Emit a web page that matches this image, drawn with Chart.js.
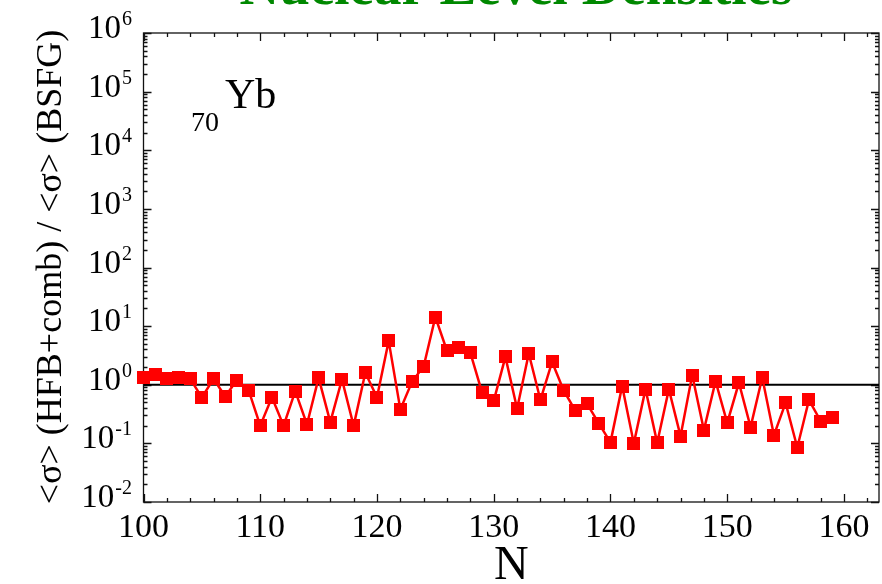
<!DOCTYPE html>
<html>
<head>
<meta charset="utf-8">
<script src="https://cdn.jsdelivr.net/npm/chart.js"></script>
<style>
  html, body { margin: 0; padding: 0; background: #fff; overflow: hidden; }
  canvas { display: block; }
</style>
</head>
<body>
<canvas id="chart" width="882" height="584"></canvas>
<script>
var neutrons = [100, 101, 102, 103, 104, 105, 106, 107, 108, 109,
                110, 111, 112, 113, 114, 115, 116, 117, 118, 119,
                120, 121, 122, 123, 124, 125, 126, 127, 128, 129,
                130, 131, 132, 133, 134, 135, 136, 137, 138, 139,
                140, 141, 142, 143, 144, 145, 146, 147, 148, 149,
                150, 151, 152, 153, 154, 155, 156, 157, 158, 159];
var ratio = [1.33, 1.5, 1.28, 1.31, 1.26, 0.61, 1.26, 0.63, 1.2, 0.81,
             0.2, 0.61, 0.2, 0.78, 0.21, 1.31, 0.23, 1.23, 0.2, 1.6,
             0.61, 5.6, 0.38, 1.12, 2.07, 14.3, 3.78, 4.25, 3.5, 0.74,
             0.53, 2.99, 0.39, 3.41, 0.55, 2.45, 0.79, 0.36, 0.47, 0.22,
             0.104, 0.95, 0.1, 0.84, 0.102, 0.84, 0.133, 1.46, 0.169, 1.15,
             0.224, 1.08, 0.19, 1.33, 0.138, 0.49, 0.085, 0.55, 0.24, 0.28];
var referenceLine = [{x: 100, y: 1}, {x: 163, y: 1}];
var xTickLabels = [100, 110, 120, 130, 140, 150, 160];
var yTickExponents = [-2, -1, 0, 1, 2, 3, 4, 5, 6];

var serif = '"Liberation Serif", "Times New Roman", serif';

// square marker as an image point style, so the big markers don't
// push the chart area in from the right edge
var marker = document.createElement('canvas');
marker.width = 13;
marker.height = 13;
(function () {
  var m = marker.getContext('2d');
  m.fillStyle = '#ff0000';
  m.fillRect(0, 0, 13, 13);
})();

function drawFrame(chart) {
  var ctx = chart.ctx;
  var a = chart.chartArea;
  var xs = chart.scales.x, ys = chart.scales.y;
  ctx.save();
  ctx.strokeStyle = '#111';
  ctx.lineWidth = 1.3;
  ctx.strokeRect(a.left, a.top, a.right - a.left, a.bottom - a.top);
  ctx.beginPath();
  // x ticks, inward, on bottom and top
  for (var v = 100; v <= 163; v += 2) {
    var px = Math.round(xs.getPixelForValue(v)) + 0.5;
    var len = (v % 10 === 0) ? 8 : 4;
    ctx.moveTo(px, a.bottom); ctx.lineTo(px, a.bottom - len);
    ctx.moveTo(px, a.top); ctx.lineTo(px, a.top + len);
  }
  // log y ticks, inward, on left and right
  for (var e = -2; e <= 6; e++) {
    for (var m = 1; m <= 9; m++) {
      if (e === 6 && m > 1) break;
      var py = Math.round(ys.getPixelForValue(m * Math.pow(10, e))) + 0.5;
      var l = (m === 1) ? 8 : 4;
      ctx.moveTo(a.left, py); ctx.lineTo(a.left + l, py);
      ctx.moveTo(a.right, py); ctx.lineTo(a.right - l, py);
    }
  }
  ctx.stroke();
  ctx.restore();
}

function drawTexts(chart) {
  var ctx = chart.ctx;
  var a = chart.chartArea;
  var xs = chart.scales.x, ys = chart.scales.y;
  ctx.save();
  ctx.fillStyle = '#000';
  ctx.textBaseline = 'alphabetic';

  // x tick labels
  ctx.font = '34px ' + serif;
  ctx.textAlign = 'center';
  xTickLabels.forEach(function (v) {
    ctx.fillText(String(v), xs.getPixelForValue(v), 537);
  });

  // y tick labels: 10 with superscript exponent
  ctx.textAlign = 'right';
  yTickExponents.forEach(function (e) {
    var py = ys.getPixelForValue(Math.pow(10, e));
    var exp = String(e);
    ctx.font = '20px ' + serif;
    var ew = ctx.measureText(exp).width;
    ctx.fillText(exp, 132, py - 8);
    ctx.font = '33px ' + serif;
    ctx.fillText('10', 132 - ew - 1, py + 5);
  });

  // axis titles
  ctx.textAlign = 'center';
  ctx.font = '48px ' + serif;
  ctx.fillText('N', (a.left + a.right) / 2, 579);

  ctx.save();
  ctx.translate(52, 267);
  ctx.rotate(-Math.PI / 2);
  ctx.textBaseline = 'middle';
  ctx.font = '36px ' + serif;
  ctx.fillText('<\u03c3> (HFB+comb) / <\u03c3> (BSFG)', 0, 0);
  ctx.restore();

  // element label
  ctx.textAlign = 'left';
  ctx.font = '42px ' + serif;
  ctx.fillText('Yb', 225, 108);
  ctx.font = '28px ' + serif;
  ctx.fillText('70', 191, 131);

  // title, mostly cut off at the top
  ctx.textAlign = 'center';
  ctx.fillStyle = 'rgb(0,136,0)';
  ctx.font = 'bold 55px ' + serif;
  ctx.fillText('Nuclear Level Densities', 516, 4);
  ctx.restore();
}

var framePlugin = {
  id: 'frame',
  beforeDatasetsDraw: function (chart) { drawFrame(chart); },
  afterDraw: function (chart) { drawTexts(chart); }
};

new Chart(document.getElementById('chart'), {
  type: 'line',
  data: {
    datasets: [
      {
        label: 'HFB+comb / BSFG',
        data: neutrons.map(function (n, i) { return {x: n, y: ratio[i]}; }),
        borderColor: '#ff0000',
        backgroundColor: '#ff0000',
        borderWidth: 2.5,
        pointStyle: marker,
        pointRadius: 1,
        pointHoverRadius: 0,
        pointBorderWidth: 0,
        tension: 0,
        clip: false,
        order: 0
      },
      {
        label: 'unity',
        data: referenceLine,
        borderColor: '#000',
        borderWidth: 2,
        pointRadius: 0,
        pointHoverRadius: 0,
        tension: 0,
        order: 1
      }
    ]
  },
  options: {
    responsive: false,
    devicePixelRatio: 1,
    animation: false,
    events: [],
    layout: { padding: { top: 33, right: 3, left: 0, bottom: 0 } },
    plugins: { legend: { display: false }, tooltip: { enabled: false }, title: { display: false } },
    scales: {
      x: {
        type: 'linear', min: 100, max: 163,
        grid: { display: false }, border: { display: false },
        ticks: { display: false },
        afterFit: function (s) { s.height = 82; }
      },
      y: {
        type: 'logarithmic', min: 0.01, max: 1e6,
        grid: { display: false }, border: { display: false },
        ticks: { display: false },
        afterFit: function (s) { s.width = 143.5; }
      }
    }
  },
  plugins: [framePlugin]
});
</script>
</body>
</html>
